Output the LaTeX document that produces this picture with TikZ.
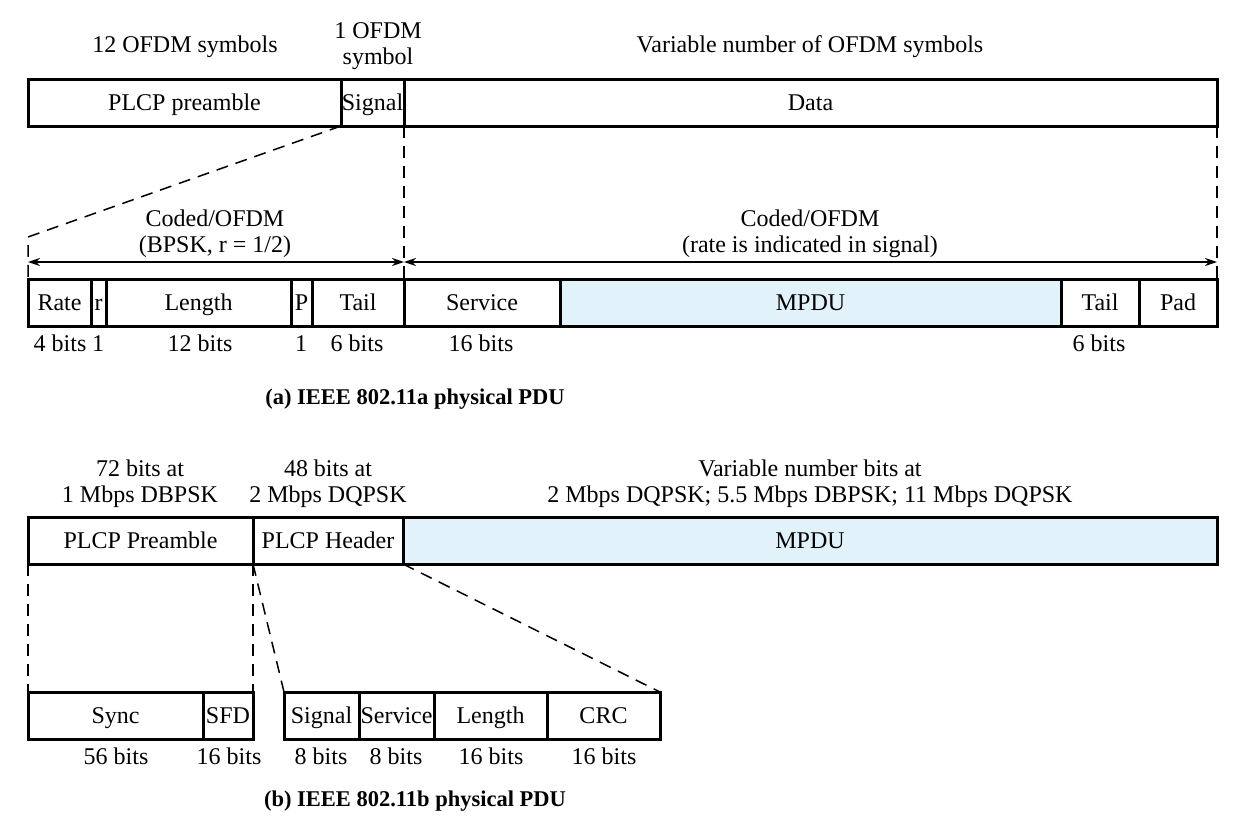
\documentclass[tikz,border=0pt]{standalone}
\usepackage{fontspec}
\setmainfont{Liberation Serif}
\usetikzlibrary{arrows.meta}
\definecolor{paleblue}{RGB}{226,242,251}
\tikzset{
  fld/.style={draw=black, line width=3pt, inner sep=0pt, outer sep=0pt,
    minimum height=47pt, text height=20pt, text depth=5pt,
    anchor=north west, font=\fontsize{24}{26}\selectfont},
  lbl/.style={inner sep=0pt, font=\fontsize{24}{26}\selectfont, align=center},
  bl/.style={inner sep=0pt, font=\fontsize{24}{26}\selectfont, anchor=base},
  ttl/.style={inner sep=0pt, font=\fontsize{22.5}{24}\selectfont\bfseries, anchor=base},
  dsh/.style={line width=1.5pt, dash pattern=on 12pt off 8pt},
  dim/.style={line width=1.5pt, {Stealth[length=12pt,width=8pt]}-{Stealth[length=12pt,width=8pt]}}
}
\begin{document}
\begin{tikzpicture}[x=1pt,y=-1pt]
\useasboundingbox[fill=white] (0,0) rectangle (1244,830);
% ---------- (a) ----------
\node[bl] (l12) at (185,52) {12 OFDM symbols};
\node[lbl] (l1) at (378,46) {1 OFDM\\symbol};
\node[bl] (lvar) at (810,52) {Variable number of OFDM symbols};
\node[fld, minimum width=313pt] (pre) at (28,79) {PLCP preamble};
\node[fld, minimum width=63pt] (sig) at (341,79) {Signal};
\node[fld, minimum width=813pt] (data) at (404,79) {Data};

\node[fld, minimum width=63pt] (rate) at (28,279) {Rate};
\node[fld, minimum width=15pt] (r) at (91,279) {r};
\node[fld, minimum width=185pt] (len) at (106,279) {Length};
\node[fld, minimum width=21pt] (p) at (291,279) {P};
\node[fld, minimum width=92pt] (tail) at (312,279) {Tail};
\node[fld, minimum width=156pt] (serv) at (404,279) {Service};
\node[fld, minimum width=501pt, fill=paleblue] (mpdu) at (560,279) {MPDU};
\node[fld, minimum width=78pt] (tail2) at (1061,279) {Tail};
\node[fld, minimum width=78pt] (pad) at (1139,279) {Pad};

\coordinate (bend) at (28,237);
\draw[dsh] (sig.south west) -- (bend) -- (rate.north west);
\draw[dsh] (sig.south east) -- (serv.north west);
\draw[dsh] (data.south east) -- (pad.north east);

\coordinate (a1) at (28,262);
\coordinate (a2) at (404,262);
\coordinate (a3) at (1217,262);
\draw[dim] (a1) -- (a2);
\draw[dim] (a2) -- (a3);
\node[lbl] (c1) at (215,233.5) {Coded/OFDM\\(BPSK, r = 1/2)};
\node[lbl] (c2) at (810,233.5) {Coded/OFDM\\(rate is indicated in signal)};

\node[bl] (b1) at (60,351) {4 bits};
\node[bl] (b2) at (98,351) {1};
\node[bl] (b3) at (200,351) {12 bits};
\node[bl] (b4) at (301,351) {1};
\node[bl] (b5) at (357,351) {6 bits};
\node[bl] (b6) at (481,351) {16 bits};
\node[bl] (b7) at (1099,351) {6 bits};
\node[ttl] (ta) at (415,404) {(a) IEEE 802.11a physical PDU};

% ---------- (b) ----------
\node[lbl] (m1) at (140,484) {72 bits at\\1 Mbps DBPSK};
\node[lbl] (m2) at (328,484) {48 bits at\\2 Mbps DQPSK};
\node[lbl] (m3) at (810,484) {Variable number bits at\\2 Mbps DQPSK; 5.5 Mbps DBPSK; 11 Mbps DQPSK};
\node[fld, minimum width=225pt] (ppre) at (28,517) {PLCP Preamble};
\node[fld, minimum width=150pt] (phdr) at (253,517) {PLCP Header};
\node[fld, minimum width=814pt, fill=paleblue] (mpdu2) at (403,517) {MPDU};

\node[fld, minimum width=175pt] (sync) at (28,692) {Sync};
\node[fld, minimum width=50pt] (sfd) at (203,692) {SFD};
\node[fld, minimum width=75pt] (bsig) at (284,692) {Signal};
\node[fld, minimum width=75pt] (bserv) at (359,692) {Service};
\node[fld, minimum width=113pt] (blen) at (434,692) {Length};
\node[fld, minimum width=113pt] (crc) at (547,692) {CRC};

\draw[dsh] (ppre.south west) -- (sync.north west);
\draw[dsh] (ppre.south east) -- (sfd.north east);
\draw[dsh] (phdr.south west) -- (bsig.north west);
\draw[dsh] (phdr.south east) -- (crc.north east);

\node[bl] (d1) at (116,764) {56 bits};
\node[bl] (d2) at (229,764) {16 bits};
\node[bl] (d3) at (321,764) {8 bits};
\node[bl] (d4) at (396,764) {8 bits};
\node[bl] (d5) at (491,764) {16 bits};
\node[bl] (d6) at (604,764) {16 bits};
\node[ttl] (tb) at (415,806) {(b) IEEE 802.11b physical PDU};
\end{tikzpicture}
\end{document}
